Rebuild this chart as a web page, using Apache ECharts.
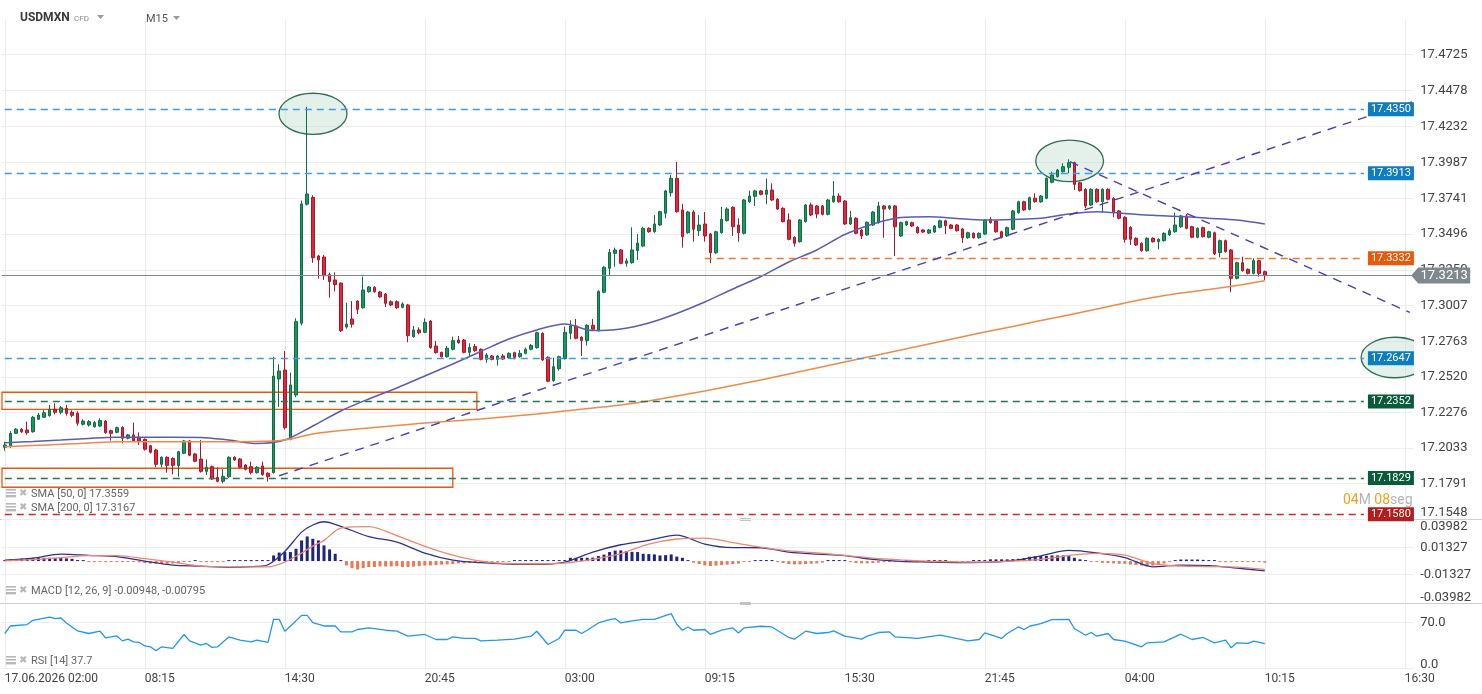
<!DOCTYPE html>
<html><head><meta charset="utf-8">
<script src="https://cdn.jsdelivr.net/npm/echarts@6/dist/echarts.min.js"></script>
<style>html,body{margin:0;padding:0;background:#fff}#c{width:1482px;height:694px}</style>
</head><body><div id="c"></div>
<script>
// ---------- data ----------
const timeLabels = ['17.06.2026 02:00','08:15','14:30','20:45','03:00','09:15','15:30','21:45','04:00','10:15','16:30'];
const timeTickIdx = [0,25,50,75,100,125,150,175,200,225,250];
const priceTicks = [17.1548,17.1791,17.2033,17.2276,17.2520,17.2763,17.3007,17.3250,17.3496,17.3741,17.3987,17.4232,17.4478,17.4725];
const macdTicks = [-0.03982,-0.01327,0.01327,0.03982];
const macdGrid = [-0.01327,0.01327];
const rsiTicks = [0,70];

// [open, close, low, high] per M15 bar
const candles = [
[17.2038,17.2054,17.2015,17.2077],[17.2047,17.2134,17.2034,17.2150],[17.2134,17.2162,17.2129,17.2170],[17.2162,17.2145,17.2136,17.2170],
[17.2157,17.2138,17.2125,17.2214],[17.2145,17.2244,17.2138,17.2253],[17.2230,17.2259,17.2225,17.2273],[17.2244,17.2275,17.2239,17.2294],
[17.2255,17.2298,17.2248,17.2328],[17.2298,17.2278,17.2264,17.2339],[17.2278,17.2309,17.2264,17.2321],[17.2305,17.2271,17.2255,17.2328],
[17.2278,17.2257,17.2244,17.2291],[17.2271,17.2203,17.2186,17.2285],[17.2196,17.2218,17.2187,17.2230],[17.2191,17.2214,17.2180,17.2225],
[17.2179,17.2207,17.2173,17.2219],[17.2184,17.2221,17.2177,17.2237],[17.2218,17.2138,17.2131,17.2225],[17.2152,17.2134,17.2084,17.2159],
[17.2141,17.2173,17.2134,17.2180],[17.2175,17.2100,17.2066,17.2182],[17.2100,17.2123,17.2093,17.2130],[17.2123,17.2084,17.2077,17.2207],
[17.2107,17.2077,17.2054,17.2141],[17.2093,17.2025,17.2016,17.2100],[17.2049,17.2004,17.1995,17.2055],[17.2020,17.1922,17.1902,17.2027],
[17.1922,17.1970,17.1902,17.1977],[17.1970,17.1915,17.1865,17.1977],[17.1963,17.1915,17.1854,17.1970],[17.1913,17.2008,17.1837,17.2014],
[17.1998,17.2082,17.1991,17.2089],[17.2082,17.1984,17.1977,17.2089],[17.1993,17.1943,17.1936,17.2000],[17.1958,17.1874,17.1865,17.2088],
[17.1874,17.1902,17.1849,17.1956],[17.1906,17.1822,17.1815,17.1913],[17.1833,17.1806,17.1799,17.1902],[17.1806,17.1840,17.1792,17.1888],
[17.1837,17.1970,17.1830,17.1977],[17.1970,17.1952,17.1945,17.1977],[17.1958,17.1902,17.1895,17.1965],[17.1917,17.1888,17.1880,17.1924],
[17.1906,17.1867,17.1854,17.1940],[17.1865,17.1902,17.1858,17.1909],[17.1911,17.1851,17.1844,17.1940],[17.1861,17.1837,17.1803,17.1868],
[17.1865,17.2526,17.1858,17.2658],[17.2506,17.2560,17.2316,17.2606],[17.2567,17.2173,17.2160,17.2697],[17.2093,17.2465,17.2086,17.2549],
[17.2396,17.2898,17.2382,17.2921],[17.2887,17.3703,17.2873,17.3726],[17.3701,17.3771,17.3692,17.4368],[17.3748,17.3335,17.3301,17.3762],
[17.3347,17.3320,17.3192,17.3354],[17.3340,17.3212,17.3183,17.3354],[17.3219,17.3171,17.3062,17.3233],[17.3183,17.3151,17.3105,17.3235],
[17.3162,17.2836,17.2827,17.3165],[17.2861,17.2882,17.2850,17.3028],[17.2916,17.2880,17.2857,17.3039],[17.3039,17.2982,17.2950,17.3044],
[17.2993,17.3114,17.2986,17.3206],[17.3103,17.3135,17.3096,17.3142],[17.3133,17.3103,17.3096,17.3140],[17.3101,17.3067,17.3060,17.3108],
[17.3087,17.3023,17.2998,17.3094],[17.3034,17.3012,17.3003,17.3044],[17.3034,17.2993,17.2984,17.3044],[17.2996,17.3019,17.2989,17.3030],
[17.3012,17.2802,17.2757,17.3019],[17.2795,17.2841,17.2788,17.2868],[17.2841,17.2822,17.2811,17.2859],[17.2825,17.2893,17.2818,17.2921],
[17.2902,17.2720,17.2713,17.2909],[17.2731,17.2686,17.2679,17.2766],[17.2688,17.2658,17.2651,17.2693],[17.2658,17.2716,17.2651,17.2731],
[17.2709,17.2768,17.2702,17.2795],[17.2772,17.2754,17.2747,17.2800],[17.2772,17.2688,17.2681,17.2779],[17.2688,17.2722,17.2663,17.2750],
[17.2727,17.2699,17.2692,17.2745],[17.2709,17.2640,17.2633,17.2716],[17.2640,17.2670,17.2617,17.2682],[17.2663,17.2640,17.2633,17.2670],
[17.2640,17.2663,17.2597,17.2670],[17.2663,17.2642,17.2635,17.2677],[17.2651,17.2681,17.2644,17.2688],[17.2686,17.2654,17.2640,17.2692],
[17.2658,17.2681,17.2651,17.2704],[17.2681,17.2709,17.2674,17.2720],[17.2709,17.2734,17.2702,17.2745],[17.2720,17.2822,17.2713,17.2829],
[17.2818,17.2636,17.2629,17.2825],[17.2654,17.2490,17.2483,17.2661],[17.2494,17.2590,17.2487,17.2651],[17.2576,17.2658,17.2562,17.2665],
[17.2645,17.2825,17.2638,17.2863],[17.2818,17.2868,17.2777,17.2907],[17.2868,17.2784,17.2777,17.2916],[17.2791,17.2768,17.2663,17.2798],
[17.2768,17.2873,17.2734,17.2880],[17.2873,17.2846,17.2839,17.2916],[17.2836,17.3105,17.2830,17.3112],[17.3099,17.3270,17.3092,17.3277],
[17.3263,17.3372,17.3212,17.3395],[17.3365,17.3388,17.3274,17.3404],[17.3388,17.3297,17.3290,17.3395],[17.3297,17.3313,17.3274,17.3331],
[17.3301,17.3388,17.3294,17.3543],[17.3384,17.3435,17.3320,17.3497],[17.3415,17.3536,17.3408,17.3547],[17.3536,17.3513,17.3506,17.3543],
[17.3513,17.3566,17.3506,17.3627],[17.3559,17.3650,17.3552,17.3657],[17.3639,17.3792,17.3605,17.3799],[17.3780,17.3878,17.3753,17.3901],
[17.3878,17.3650,17.3643,17.3990],[17.3662,17.3479,17.3404,17.3703],[17.3506,17.3648,17.3499,17.3655],[17.3648,17.3530,17.3445,17.3662],
[17.3520,17.3559,17.3484,17.3627],[17.3566,17.3484,17.3445,17.3648],[17.3497,17.3369,17.3297,17.3504],[17.3369,17.3513,17.3362,17.3520],
[17.3506,17.3598,17.3499,17.3684],[17.3589,17.3668,17.3582,17.3680],[17.3680,17.3547,17.3484,17.3687],[17.3559,17.3506,17.3445,17.3605],
[17.3502,17.3730,17.3495,17.3737],[17.3718,17.3757,17.3711,17.3794],[17.3755,17.3792,17.3689,17.3799],[17.3792,17.3769,17.3762,17.3799],
[17.3769,17.3798,17.3701,17.3878],[17.3798,17.3730,17.3723,17.3844],[17.3735,17.3668,17.3662,17.3742],[17.3673,17.3582,17.3575,17.3680],
[17.3593,17.3461,17.3454,17.3639],[17.3475,17.3434,17.3411,17.3482],[17.3445,17.3593,17.3438,17.3600],[17.3582,17.3696,17.3575,17.3703],
[17.3696,17.3627,17.3620,17.3712],[17.3689,17.3634,17.3605,17.3696],[17.3689,17.3632,17.3625,17.3696],[17.3632,17.3730,17.3625,17.3737],
[17.3718,17.3757,17.3711,17.3860],[17.3757,17.3718,17.3711,17.3776],[17.3723,17.3566,17.3559,17.3730],[17.3566,17.3609,17.3559,17.3655],
[17.3605,17.3502,17.3495,17.3612],[17.3525,17.3484,17.3463,17.3532],[17.3491,17.3577,17.3484,17.3584],[17.3559,17.3648,17.3552,17.3655],
[17.3575,17.3689,17.3568,17.3718],[17.3689,17.3668,17.3472,17.3696],[17.3673,17.3689,17.3662,17.3696],[17.3689,17.3547,17.3347,17.3696],
[17.3484,17.3575,17.3477,17.3582],[17.3559,17.3582,17.3552,17.3589],[17.3575,17.3552,17.3545,17.3582],[17.3543,17.3506,17.3499,17.3550],
[17.3525,17.3511,17.3504,17.3532],[17.3504,17.3525,17.3497,17.3532],[17.3511,17.3552,17.3504,17.3559],[17.3543,17.3588,17.3536,17.3595],
[17.3588,17.3554,17.3497,17.3595],[17.3559,17.3536,17.3530,17.3566],[17.3559,17.3520,17.3513,17.3566],[17.3532,17.3472,17.3436,17.3539],
[17.3472,17.3506,17.3465,17.3513],[17.3502,17.3472,17.3465,17.3509],[17.3472,17.3502,17.3465,17.3509],[17.3497,17.3593,17.3490,17.3600],
[17.3598,17.3575,17.3568,17.3612],[17.3586,17.3513,17.3506,17.3593],[17.3513,17.3475,17.3468,17.3520],[17.3484,17.3541,17.3477,17.3548],
[17.3530,17.3655,17.3523,17.3662],[17.3643,17.3718,17.3636,17.3725],[17.3718,17.3662,17.3655,17.3725],[17.3666,17.3746,17.3659,17.3753],
[17.3742,17.3718,17.3711,17.3776],[17.3718,17.3757,17.3711,17.3764],[17.3742,17.3878,17.3735,17.3885],[17.3851,17.3901,17.3844,17.3924],
[17.3890,17.3935,17.3883,17.3942],[17.3924,17.3958,17.3917,17.3981],[17.3954,17.3985,17.3913,17.4008],[17.3985,17.3837,17.3798,17.3992],
[17.3848,17.3794,17.3787,17.3855],[17.3803,17.3689,17.3673,17.3810],[17.3696,17.3803,17.3689,17.3810],[17.3803,17.3718,17.3711,17.3810],
[17.3718,17.3803,17.3643,17.3810],[17.3803,17.3735,17.3728,17.3810],[17.3742,17.3650,17.3612,17.3749],[17.3655,17.3605,17.3598,17.3662],
[17.3612,17.3461,17.3438,17.3619],[17.3543,17.3461,17.3422,17.3550],[17.3468,17.3422,17.3415,17.3475],[17.3434,17.3383,17.3376,17.3441],
[17.3383,17.3468,17.3376,17.3475],[17.3468,17.3445,17.3438,17.3475],[17.3445,17.3461,17.3393,17.3468],[17.3452,17.3502,17.3445,17.3509],
[17.3491,17.3520,17.3484,17.3536],[17.3513,17.3559,17.3506,17.3643],[17.3547,17.3621,17.3540,17.3628],[17.3621,17.3536,17.3529,17.3634],
[17.3547,17.3475,17.3468,17.3554],[17.3475,17.3536,17.3468,17.3543],[17.3541,17.3479,17.3472,17.3548],[17.3475,17.3513,17.3468,17.3520],
[17.3506,17.3361,17.3354,17.3513],[17.3370,17.3452,17.3338,17.3459],[17.3452,17.3377,17.3370,17.3459],[17.3388,17.3194,17.3099,17.3395],
[17.3194,17.3301,17.3187,17.3308],[17.3301,17.3246,17.3240,17.3342],[17.3256,17.3228,17.3221,17.3262],[17.3228,17.3315,17.3221,17.3331],
[17.3315,17.3228,17.3205,17.3322],[17.3240,17.3213,17.3183,17.3247]
];

const smaIdx = [0,5,10,15,20,25,30,35,40,45,50,55,60,65,70,75,80,85,90,95,100,105,110,115,120,125,130,135,140,145,150,155,160,165,170,175,180,185,190,195,200,205,210,215,220,225];
const sma50 = [17.2070,17.2078,17.2088,17.2099,17.2107,17.2107,17.2107,17.2106,17.2088,17.2064,
17.2088,17.2184,17.2287,17.2369,17.2444,17.2526,17.2608,17.2694,17.2779,17.2841,
17.2882,17.2837,17.2848,17.2889,17.2954,17.3032,17.3121,17.3207,17.3306,17.3388,
17.3494,17.3566,17.3610,17.3616,17.3604,17.3593,17.3597,17.3605,17.3634,17.3650,
17.3638,17.3625,17.3617,17.3605,17.3593,17.3566];
const sma200 = [17.2043,17.2051,17.2059,17.2068,17.2077,17.2077,17.2077,17.2077,17.2077,17.2078,
17.2088,17.2129,17.2153,17.2171,17.2188,17.2205,17.2218,17.2232,17.2249,17.2266,
17.2287,17.2307,17.2328,17.2355,17.2389,17.2424,17.2461,17.2499,17.2540,17.2581,
17.2622,17.2663,17.2704,17.2745,17.2786,17.2827,17.2865,17.2906,17.2943,17.2984,
17.3026,17.3063,17.3094,17.3118,17.3145,17.3178];

const macdIdx = [0,5,10,15,20,25,30,35,40,45,47,50,53,55,57,60,65,70,75,80,85,90,95,100,105,110,115,120,125,130,135,140,145,150,155,160,165,170,175,180,185,190,195,200,205,210,215,220,225];
const macdLine = [0.0010,0.0029,0.0068,0.0056,0.0044,0.0000,-0.0039,-0.0049,-0.0061,-0.0052,-0.0036,0.0094,0.0282,0.0351,0.0383,0.0338,
0.0239,0.0185,0.0078,0.0010,-0.0015,-0.0029,-0.0032,-0.0010,0.0088,0.0159,0.0202,0.0253,0.0166,0.0131,0.0130,0.0088,0.0068,
0.0054,0.0017,-0.0002,-0.0009,-0.0014,-0.0013,0.0005,0.0051,0.0104,0.0080,0.0034,-0.0056,-0.0039,-0.0044,-0.0068,-0.0095];
const signalLine = [0.0003,0.0015,0.0034,0.0054,0.0054,0.0024,-0.0010,-0.0049,-0.0056,-0.0056,-0.0056,-0.0010,0.0078,0.0146,0.0202,0.0321,
0.0335,0.0248,0.0143,0.0058,0.0000,-0.0024,-0.0026,-0.0019,0.0017,0.0073,0.0166,0.0215,0.0224,0.0180,0.0136,0.0099,0.0080,
0.0055,0.0029,0.0012,0.0000,-0.0007,-0.0010,0.0000,0.0017,0.0054,0.0076,0.0058,-0.0025,-0.0049,-0.0053,-0.0058,-0.0080];
const macdHist = [
0.0010,0.0015,0.0019,0.0024,0.0029,0.0029,0.0032,0.0032,0.0032,0.0029,0.0029,0.0026,0.0022,0.0010,
0.0005,-0.0007,-0.0007,-0.0007,-0.0008,-0.0008,-0.0008,-0.0010,-0.0010,-0.0010,-0.0013,
-0.0019,-0.0024,-0.0026,-0.0026,-0.0026,-0.0024,-0.0024,
-0.0003,-0.0002,0.0002,-0.0003,-0.0003,-0.0008,-0.0008,-0.0008,
0.0003,0.0007,0.0008,0.0008,0.0008,0.0008,0.0008,0.0005,
0.0055,0.0083,0.0088,0.0088,0.0120,0.0201,0.0240,0.0217,0.0201,0.0153,0.0114,0.0071,0.0010,
-0.0042,-0.0068,-0.0081,-0.0068,-0.0058,-0.0058,-0.0052,-0.0052,-0.0052,-0.0049,
-0.0058,-0.0058,-0.0053,-0.0049,-0.0044,-0.0042,-0.0039,-0.0034,-0.0032,-0.0029,-0.0022,-0.0022,-0.0019,-0.0019,-0.0017,-0.0010,-0.0010,-0.0008,-0.0008,-0.0008,
0.0002,0.0002,0.0010,0.0010,0.0010,0.0010,0.0003,0.0002,0.0005,0.0010,
0.0032,0.0032,0.0032,0.0032,0.0034,0.0049,0.0063,0.0088,0.0102,0.0104,0.0097,0.0090,0.0088,0.0071,0.0068,0.0065,0.0055,0.0058,0.0065,0.0044,0.0032,0.0003,
-0.0015,-0.0029,-0.0042,-0.0049,-0.0044,-0.0039,-0.0034,-0.0029,-0.0024,-0.0010,-0.0003,
0.0008,0.0008,0.0008,0.0005,-0.0003,
-0.0019,-0.0029,-0.0032,-0.0032,-0.0029,-0.0026,-0.0022,-0.0015,
0.0003,0.0008,0.0008,0.0008,
-0.0010,-0.0019,-0.0022,-0.0022,-0.0019,-0.0015,-0.0010,-0.0003,-0.0002,
-0.0002,0.0002,0.0002,-0.0002,-0.0002,0.0001,0.0002,0.0003,0.0002,-0.0002,-0.0002,-0.0003,-0.0002,0.0002,0.0003,0.0005,
0.0017,0.0017,0.0017,0.0017,0.0019,0.0022,0.0029,0.0042,0.0046,0.0049,0.0051,0.0055,0.0055,0.0055,0.0051,0.0032,0.0017,0.0005,
-0.0005,-0.0007,-0.0017,-0.0019,-0.0022,-0.0026,-0.0026,-0.0034,-0.0039,-0.0044,-0.0049,-0.0044,-0.0032,-0.0024,-0.0010,
0.0003,0.0015,0.0015,0.0015,0.0015,0.0012,0.0008,0.0002,
-0.0003,-0.0010,-0.0010,-0.0010,-0.0010,-0.0010,-0.0010,-0.0010,-0.0015];

const rsiIdx = [0,1,4,5,8,9,10,11,13,15,17,18,20,21,22,23,24,25,26,27,28,30,32,33,35,36,37,38,40,42,44,45,47,48,49,50,51,53,54,55,
57,59,60,62,63,65,68,70,72,75,77,79,80,82,84,85,88,91,94,95,97,99,100,102,103,104,106,108,109,110,112,114,116,119,120,121,122,123,125,126,
128,130,131,132,135,137,140,141,143,145,147,148,150,153,154,156,158,159,163,167,169,172,174,175,178,179,181,182,183,185,187,190,191,193,194,195,197,198,200,203,
204,207,210,212,214,216,218,219,220,222,223,225];
const rsiVal = [53.3,64.8,67.0,73.5,78.5,76.1,77.0,69.4,57.2,53.3,56.8,46.6,49.6,42.0,44.6,40.5,39.6,34.4,32.9,26.8,32.9,30.4,51.8,42.0,35.5,38.1,32.0,32.9,48.1,43.1,
40.5,43.1,39.6,75.0,75.0,56.8,64.4,81.1,81.1,70.0,64.8,64.8,55.7,55.7,59.4,61.8,58.3,56.8,49.2,51.8,44.1,44.1,48.1,45.7,45.7,42.0,43.1,44.6,49.2,56.8,
36.5,45.7,58.3,58.3,53.3,58.3,69.4,74.6,76.1,69.4,72.5,75.0,75.0,83.7,67.4,58.3,63.3,58.3,59.4,51.8,58.3,61.8,54.2,61.8,64.4,63.3,47.2,44.6,56.8,53.3,
54.8,57.2,49.2,44.6,49.2,54.8,55.7,48.1,45.7,50.7,47.2,42.0,44.1,54.2,45.7,53.3,63.3,59.4,64.4,68.5,74.6,75.0,60.9,50.7,54.8,49.2,53.3,44.1,41.6,32.9,
39.0,40.5,52.2,44.1,47.2,39.0,43.1,31.4,39.0,38.1,41.6,37.7];

// drawing annotations (in bar index / price units)
const blueLevels = [17.4350, 17.3913, 17.2647];
const greenLevels = [17.2352, 17.1829];
const redLevels = [17.1580];
const orangeLevel = 17.3332;
const lastPrice = 17.3213;
const levelSpan = [0, 242.7];
const orangeStart = 125;
const trendLines = [[[49.0, 17.1844],[251.5, 17.4404]], [[190.2, 17.3992],[250.9, 17.2961]]];
const zones = [[[-0.5, 17.2415],[84.3, 17.2298]], [[-0.5, 17.1895],[80.0, 17.1765]]];
const ellipses = [[48.96, 17.4460, 61.1, 17.4179],[184.1, 17.4140, 196.2, 17.3855],[242.2, 17.2791, 254.3, 17.2514]];
const legendSma50 = 'SMA [50, 0] 17.3559';
const legendSma200 = 'SMA [200, 0] 17.3167';
const legendMacd = 'MACD [12, 26, 9] -0.00948, -0.00795';
const legendRsi = 'RSI [14] 37.7';

// ---------- chart ----------
const FONT = 'Roboto, "Noto Sans", sans-serif';
const chart = echarts.init(document.getElementById('c'), null, {renderer: 'canvas'});
const GL = 2, GR = 1482 - 1413.2;
const grids = [
  {left: GL, right: GR, top: 19, height: 500},
  {left: GL, right: GR, top: 520, height: 83},
  {left: GL, right: GR, top: 603, height: 65.3}
].map(g => Object.assign(g, {containLabel: false, outerBoundsMode: 'none'}));

function xAx(i, showLabel) {
  return {
    type: 'value', gridIndex: i, min: -0.5, max: 251.5,
    axisLine: {show: false}, axisTick: {show: false, customValues: timeTickIdx},
    splitLine: {show: true, lineStyle: {color: '#ececec', width: 1}},
    axisLabel: {show: showLabel, customValues: timeTickIdx, align: 'left', margin: 5, hideOverlap: false,
      color: '#444', fontSize: 12, fontFamily: FONT,
      formatter: v => timeLabels[timeTickIdx.indexOf(Math.round(v))] || ''}
  };
}
const labelBase = {color: '#444', fontSize: 13, fontFamily: FONT, margin: 7, hideOverlap: false};

const levelLine = (v, tagColor, dashColor, start) => [
  {coord: [start, v], lineStyle: {color: dashColor, type: [7, 5], width: 1.4, opacity: 1},
   label: {show: true, position: 'end', distance: 4, formatter: v.toFixed(4), color: '#fff',
     backgroundColor: tagColor, padding: [2, 3, 1, 3], fontSize: 11, fontFamily: FONT}},
  {coord: [levelSpan[1], v]}
];
const markLines = [];
blueLevels.forEach(v => markLines.push(levelLine(v, '#0f7dc2', '#3c9de2', levelSpan[0])));
greenLevels.forEach(v => markLines.push(levelLine(v, '#0b5a3b', '#2a7356', levelSpan[0])));
redLevels.forEach(v => markLines.push(levelLine(v, '#b71c1c', '#cc2a2a', levelSpan[0])));
markLines.push(levelLine(orangeLevel, '#e8590c', '#f0782e', orangeStart));
markLines.push([{coord: [-0.5, lastPrice], lineStyle: {color: '#7f8a8f', type: 'solid', width: 1}, label: {show: false}}, {coord: [251.5, lastPrice]}]);
trendLines.forEach(t => markLines.push([{coord: t[0], lineStyle: {color: '#4b3db3', type: [9, 7], width: 1.4}, label: {show: false}}, {coord: t[1]}]));

const icon = (y) => ([
  {type: 'rect', shape: {x: 6, y: y - 5, width: 10, height: 1.6}, style: {fill: '#b8b8b8'}},
  {type: 'rect', shape: {x: 6, y: y - 2, width: 10, height: 1.6}, style: {fill: '#b8b8b8'}},
  {type: 'rect', shape: {x: 6, y: y + 1, width: 10, height: 2.4}, style: {fill: '#b8b8b8'}},
  {type: 'text', x: 19, y: y - 1, style: {text: '\u2716', fontSize: 10, fill: '#b8b8b8', verticalAlign: 'middle', fontFamily: 'DejaVu Sans'}}
]);
const legendText = (y, t) => ({type: 'text', x: 31, y: y, style: {text: t, fontSize: 11, fill: '#666', verticalAlign: 'middle', fontFamily: FONT}});

const option = {
  animation: false,
  backgroundColor: '#fff',
  grid: grids,
  xAxis: [xAx(0, false), xAx(1, false), xAx(2, true)],
  yAxis: [
    {type: 'value', gridIndex: 0, position: 'right', min: 17.1548, max: 17.4968, scale: true,
      axisLine: {show: false}, axisTick: {show: false, customValues: priceTicks},
      splitLine: {show: true, lineStyle: {color: '#eeeeee'}},
      axisLabel: Object.assign({}, labelBase, {customValues: priceTicks,
        formatter: v => Math.abs(v - priceTicks[0]) < 1e-6 ? '{up|' + v.toFixed(4) + '}' : v.toFixed(4),
        rich: {up: {padding: [0, 0, 12, 0], color: '#444', fontSize: 13, fontFamily: FONT}}})},
    {type: 'value', gridIndex: 1, position: 'right', min: -0.0408, max: 0.0400,
      axisLine: {show: false}, axisTick: {show: false, customValues: macdGrid},
      splitLine: {show: true, lineStyle: {color: '#eeeeee'}},
      axisLabel: Object.assign({}, labelBase, {customValues: macdTicks,
        formatter: v => v > 0.03 ? '{dn|' + v.toFixed(5) + '}' : v < -0.03 ? '{up|' + v.toFixed(5) + '}' : v.toFixed(5),
        rich: {up: {padding: [0, 0, 9, 0], color: '#444', fontSize: 13, fontFamily: FONT},
               dn: {padding: [13, 0, 0, 0], color: '#444', fontSize: 13, fontFamily: FONT}}})},
    {type: 'value', gridIndex: 2, position: 'right', min: 0, max: 100,
      axisLine: {show: false}, axisTick: {show: false, customValues: rsiTicks},
      splitLine: {show: true, lineStyle: {color: '#eeeeee'}},
      axisLabel: Object.assign({}, labelBase, {customValues: rsiTicks,
        formatter: v => v === 0 ? '{up|0.0}' : v.toFixed(1),
        rich: {up: {padding: [0, 0, 8, 0], color: '#444', fontSize: 13, fontFamily: FONT}}})}
  ],
  series: [
    {type: 'custom', xAxisIndex: 0, yAxisIndex: 0, clip: true, z: 1, silent: true,
      data: ellipses, encode: {x: [0, 2], y: [1, 3]},
      renderItem: (params, api) => {
        const p1 = api.coord([api.value(0), api.value(1)]);
        const p2 = api.coord([api.value(2), api.value(3)]);
        return {type: 'ellipse', shape: {cx: (p1[0] + p2[0]) / 2, cy: (p1[1] + p2[1]) / 2,
          rx: Math.abs(p2[0] - p1[0]) / 2, ry: Math.abs(p2[1] - p1[1]) / 2},
          style: {fill: 'rgba(178,215,197,0.35)', stroke: '#2f6f55', lineWidth: 1.3}};
      }},
    {type: 'candlestick', xAxisIndex: 0, yAxisIndex: 0, z: 2, barWidth: 3,
      data: candles.map((c, i) => [i, c[0], c[1], c[2], c[3]]),
      encode: {x: 0, y: [1, 2, 3, 4]},
      itemStyle: {color: '#1c955f', borderColor: '#0f6e44', color0: '#e3253b', borderColor0: '#a8182b', borderWidth: 1},
      markArea: {silent: true, itemStyle: {color: 'rgba(255,255,255,0)', borderColor: '#e8590c', borderWidth: 1.3},
        data: zones.map(z => [{coord: z[0]}, {coord: z[1]}])},
      markLine: {silent: true, symbol: ['none', 'none'], animation: false, data: markLines}
    },
    {type: 'line', name: 'SMA50', xAxisIndex: 0, yAxisIndex: 0, z: 3, symbol: 'none', smooth: 0.3,
      data: smaIdx.map((x, k) => [x, sma50[k]]), lineStyle: {color: '#5a5db4', width: 1.5}},
    {type: 'line', name: 'SMA200', xAxisIndex: 0, yAxisIndex: 0, z: 3, symbol: 'none', smooth: 0.3,
      data: smaIdx.map((x, k) => [x, sma200[k]]), lineStyle: {color: '#f08a4b', width: 1.5}},
    {type: 'custom', xAxisIndex: 0, yAxisIndex: 0, clip: false, z: 20, silent: true,
      data: [[251.5, lastPrice]], encode: {x: 0, y: 1},
      renderItem: (params, api) => {
        const p = api.coord([api.value(0), api.value(1)]);
        const R = params.coordSys.x + params.coordSys.width, y = p[1];
        return {type: 'group', children: [
          {type: 'polygon', shape: {points: [[R - 2, y], [R + 5, y - 8], [R + 57, y - 8], [R + 57, y + 8], [R + 5, y + 8]]}, style: {fill: '#7f888d'}},
          {type: 'text', style: {text: lastPrice.toFixed(4), x: R + 31, y: y, align: 'center', verticalAlign: 'middle', fill: '#fff', fontSize: 13, fontFamily: FONT}}
        ]};
      }},
    {type: 'bar', xAxisIndex: 1, yAxisIndex: 1, barWidth: 3, barMinHeight: 1,
      data: macdHist.map((v, i) => [i, v]),
      itemStyle: {color: p => p.value[1] >= 0 ? '#1c2580' : '#f07352'}},
    {type: 'line', xAxisIndex: 1, yAxisIndex: 1, symbol: 'none', smooth: 0.3,
      data: macdIdx.map((x, k) => [x, macdLine[k]]), lineStyle: {color: '#2d3290', width: 1.3}},
    {type: 'line', xAxisIndex: 1, yAxisIndex: 1, symbol: 'none', smooth: 0.3,
      data: macdIdx.map((x, k) => [x, signalLine[k]]), lineStyle: {color: '#f4866c', width: 1.3}},
    {type: 'line', xAxisIndex: 2, yAxisIndex: 2, symbol: 'none',
      data: rsiIdx.map((x, k) => [x, rsiVal[k]]), lineStyle: {color: '#2196f3', width: 1.3}}
  ],
  graphic: [
    {type: 'text', x: 20, y: 18, style: {text: 'USDMXN', fontSize: 12, fontWeight: 'bold', fill: '#3a3a3a', verticalAlign: 'middle', fontFamily: FONT}},
    {type: 'text', x: 74, y: 19, style: {text: 'CFD', fontSize: 8, fill: '#8a8a8a', verticalAlign: 'middle', fontFamily: FONT}},
    {type: 'polygon', shape: {points: [[97, 15], [104, 15], [100.5, 19]]}, style: {fill: '#9a9a9a'}},
    {type: 'text', x: 146, y: 19, style: {text: 'M15', fontSize: 11, fill: '#555', verticalAlign: 'middle', fontFamily: FONT}},
    {type: 'polygon', shape: {points: [[173, 16], [180, 16], [176.5, 20]]}, style: {fill: '#9a9a9a'}},
    {type: 'line', shape: {x1: 0, y1: 519.5, x2: 1482, y2: 519.5}, style: {stroke: '#cfcfcf', lineWidth: 1}},
    {type: 'line', shape: {x1: 0, y1: 603.5, x2: 1482, y2: 603.5}, style: {stroke: '#cfcfcf', lineWidth: 1}},
    {type: 'rect', shape: {x: 740, y: 518, width: 11, height: 3}, style: {fill: '#c4c4c4'}},
    {type: 'rect', shape: {x: 740, y: 602, width: 11, height: 3}, style: {fill: '#c4c4c4'}},
    ...icon(494), legendText(494, legendSma50),
    ...icon(508), legendText(508, legendSma200),
    ...icon(591), legendText(591, legendMacd),
    ...icon(661), legendText(661, legendRsi),
    {type: 'text', x: 1343, y: 500, style: {text: '{o|04}{g|M} {o|08}{g|seg}', verticalAlign: 'middle',
      rich: {o: {fill: '#f5a01a', fontSize: 14, fontFamily: FONT}, g: {fill: '#b4b4b4', fontSize: 14, fontFamily: FONT}}}}
  ]
};
chart.setOption(option);
</script>
</body></html>
